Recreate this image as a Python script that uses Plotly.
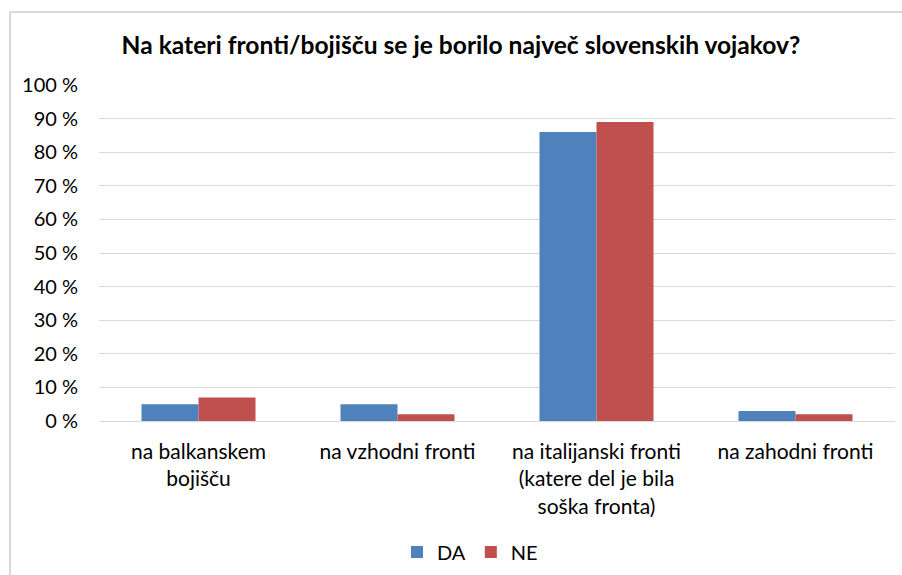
import plotly.graph_objects as go

categories = [
    "na balkanskem<br>bojišču",
    "na vzhodni fronti",
    "na italijanski fronti<br>(katere del je bila<br>soška fronta)",
    "na zahodni fronti",
]
series_names = ["DA", "NE"]
da_values = [5, 5, 86, 3]
ne_values = [7, 2, 89, 2]
y_tickvals = [0, 10, 20, 30, 40, 50, 60, 70, 80, 90, 100]
y_ticktext = [f"{v} %" for v in y_tickvals]
title_text = "Na kateri fronti/bojišču se je borilo največ slovenskih vojakov?"

FONT = "Lato"
colors = ["#4F81BD", "#C0504D"]

fig = go.Figure()
for name, vals, col in zip(series_names, [da_values, ne_values], colors):
    fig.add_trace(go.Bar(x=categories, y=vals, name=name,
                         marker=dict(color=col, line=dict(width=0))))

W, H = 902, 575
L, R, T, B = 99, 895, 85, 421
fig.update_layout(
    width=W, height=H,
    margin=dict(l=L, r=W - R, t=T, b=H - B, autoexpand=False),
    paper_bgcolor="white", plot_bgcolor="white",
    barmode="group", bargap=0.427, bargroupgap=0,
    font=dict(family=FONT, size=20, color="#000000"),
    title=dict(text="<b>" + title_text + "</b>", font=dict(family=FONT, size=24.6, color="#000000"),
               x=461 / W, xref="container", xanchor="center",
               y=1 - 45 / H, yref="container", yanchor="middle"),
    showlegend=True,
    legend=dict(orientation="h", xref="container", yref="container",
                x=470 / W, xanchor="center", y=1 - 552 / H, yanchor="middle",
                font=dict(family=FONT, size=20, color="#000000"),
                bgcolor="rgba(0,0,0,0)"),
)
fig.update_yaxes(range=[0, 100], tickvals=y_tickvals, ticktext=y_ticktext,
                 showgrid=True, gridcolor="#D9D9D9", gridwidth=1,
                 zeroline=True, zerolinecolor="#D9D9D9", zerolinewidth=1,
                 showline=False, ticks="", ticklabelstandoff=20,
                 tickfont=dict(family=FONT, size=20, color="#000000"),
                 fixedrange=True)
fig.update_xaxes(showgrid=False, showline=False, ticks="", ticklabelstandoff=16,
                 tickfont=dict(family=FONT, size=21, color="#000000"),
                 tickangle=0, fixedrange=True)

# chart border (left and top edges visible in reference)
pw, ph = R - L, B - T
bx = (10 - L) / pw
by = 1 + (T - 12) / ph
fig.add_shape(type="line", xref="paper", yref="paper", x0=bx, x1=bx, y0=by, y1=-(H - B) / ph,
              line=dict(color="#D9D9D9", width=2))
fig.add_shape(type="line", xref="paper", yref="paper", x0=bx, x1=1 + (W - R) / pw, y0=by, y1=by,
              line=dict(color="#D9D9D9", width=2))

fig.write_html(
    "out.html",
    config={"displayModeBar": False},
    post_script="document.body.style.margin='0';document.body.style.overflow='hidden';",
)
